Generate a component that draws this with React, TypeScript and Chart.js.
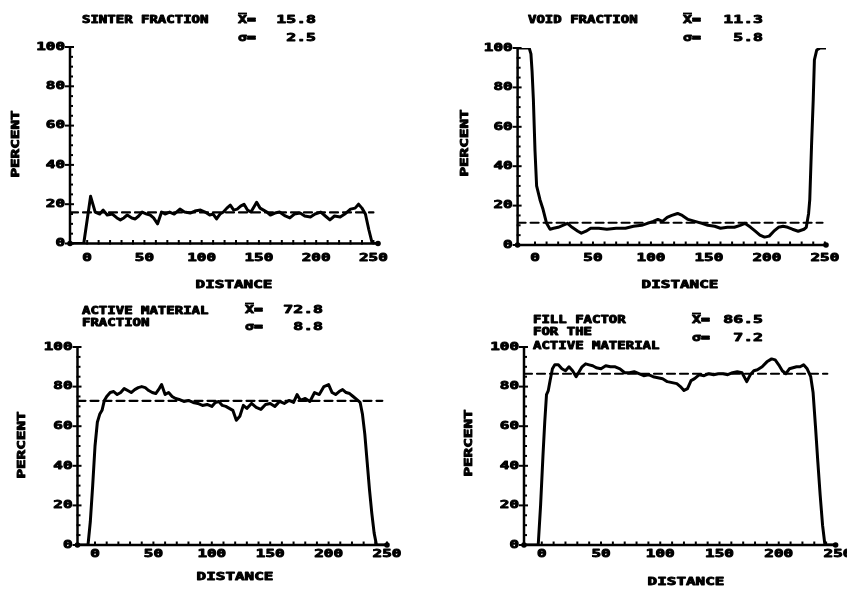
import React, { useEffect, useRef } from "react";
import { Chart, registerables } from "chart.js";
Chart.register(...registerables);

// ---------------- data ----------------
const sinterDist = [-15,-8,-3,3,7,11,14,17.5,22,26,29,32,35,39,42,45,48,52,55,58,61.5,65,68,72,76,81,85,90,94,99,103,107,110,113,116,119,122,125,128,131,134,137,140,143,146,148,151,154,157,160,164,168,173,177,181,186,190,195,199,204,208,212,216,221,225,230,234,237,240,243,246,249,254];
const sinterPct = [0,0,0,24,16,15,17,14.5,15,13,12,13,14.5,13,12.5,14,16,15,14.5,13,10,16,15,16,15,17.5,16,15.5,16.5,17,16,14.5,15,12.5,15,16,18,19.5,17,17.5,19,20,17,16,19,21,18,17,16,14.5,15.5,16,14,13,15,15.5,14,13.5,15,16,14,12,14,13.5,15,17.5,18,20,18,15,7,0,0];

const voidDist = [-15,-10,-5,-3.5,-2.5,-1.4,0,1.4,4.3,7,10,13,16,20,24,28,32,37,40,44,48,55,62,70,78,85,92,97,102,106,110,114,118,123,127,132,138,144,149,155,160,166,172,177,181,186,190,194,198,202,206,210,214,218,222,227,232,234,236,237,238.5,240,241,243,246,251];
const voidPct = [100,100,100,97,88,74,48,30,23,18,11,8,8.5,9,10,11,9,7,6,7,8.5,8.5,8,8.5,8.5,9.5,10,11,12,13,12,14,15,16,15,13,12,11,10,9.5,8.5,9,9,10,11,9,7,5,4,4.5,7,9,9.5,9,8,7,8,9,16,23,50,74,94,99,100,100];

const activeDist = [-15,-6,-4,-2,0,2,4,6,8,10,13,16,19,22,25,28,31,34,37,40,43,46,49,52,55,57,60,63,66,69,72,76,80,84,88,92,96,100,103,106,109,112,115,118,121,124,127,130,134,138,142,146,150,154,158,162,166,170,173,176,180,184,188,192,196,200,203,206,209,212,215,218,221,224,227,229,231,233,235,237,239,241,250];
const activePct = [0,0,12,30,50,62,66,68,73,75,77,77.5,76,77,79,78,77,78.5,79.5,80,79.5,78,77,76.5,79,81,76,77,75,74,73.5,72.5,73,72,71.5,70.5,71,70,72,72.5,70.5,70,69,68,63,65,70.5,69,71.5,69.5,68.5,71,71.5,70,72.5,71.5,73,72,76,73,74,72.5,77,76,80,81,77,76,77.5,78.5,77,76.5,75,73.5,72,66,56,42,28,16,6,0,0];

const fillDist = [-15,-3,-1,1,2.5,4,5.5,7,9,11,14,17,20,23,26,29,32,34,37,40,43,46,50,54,58,62,66,70,74,78,82,86,90,94,98,102,106,110,114,117,120,123,126,129,133,137,141,145,149,153,157,161,165,169,173,176,179,182,186,190,194,197,200,203,206,209,212,215,218,221,224,227,229,231,233,235,237,239,248];
const fillPct = [0,0,20,45,62,76,78,83,89,91,91,89,88,90,88,85,88,90,91.5,91,90.5,89.5,89,90.5,90,90,89,87,87,87.5,86.5,85.5,86,85,84.5,84,82.5,82,81.5,80,78,79,83,84,86,85.5,86.5,86,86.5,86.5,86,87,87.5,87,82.5,86,88,88.5,90,92.5,94,93.5,91,88,86.5,89,89.5,90,90,91,89,85,77,60,42,25,10,0,0];

const means = [15.8, 11.3, 72.8, 86.5];
const sigmas = [2.5, 5.8, 8.8, 7.2];
const meanStart = [-15, -15, -15, -15];
const meanEnd = [250, 248, 246, 241];
const panelTitles = [
  ["SINTER FRACTION"],
  ["VOID FRACTION"],
  ["ACTIVE MATERIAL", "FRACTION"],
  ["FILL FACTOR", "FOR THE", "ACTIVE MATERIAL"],
];
const xTickValues = [0, 50, 100, 150, 200, 250];
const yTickValues = [0, 20, 40, 60, 80, 100];
const xAxisTitle = "DISTANCE";
const yAxisTitle = "PERCENT";

// ---------------- layout (page pixels) ----------------
const W = 847, H = 590;
const layouts = [
  { left: 70, right: 378, top: 47, bottom: 243.5, xMax: 254, xLabY: 258, xTitle: [234, 285], yTitle: [16, 144], titleX: 82, titleY: [20], statX: 238, statR: 316, statY: [20, 38] },
  { left: 517.6, right: 826, top: 48, bottom: 245, xMax: 251, xLabY: 258, xTitle: [680, 285], yTitle: [465, 143], titleX: 528, titleY: [20], statX: 683, statR: 763, statY: [20, 38] },
  { left: 77.5, right: 387, top: 347, bottom: 545, xMax: 250, xLabY: 554, xTitle: [235, 577], yTitle: [22, 445], titleX: 82, titleY: [311, 323], statX: 245, statR: 323, statY: [310, 327] },
  { left: 524, right: 835.6, top: 347, bottom: 545, xMax: 248, xLabY: 554, xTitle: [686, 582], yTitle: [469, 443], titleX: 533, titleY: [320, 332, 346], statX: 692, statR: 763, statY: [320, 338] },
];
const seriesDist = [sinterDist, voidDist, activeDist, fillDist];
const seriesPct = [sinterPct, voidPct, activePct, fillPct];

const MONO = '"DejaVu Sans Mono", "Liberation Mono", monospace';

function txt(ctx: CanvasRenderingContext2D, s: string, x: number, y: number, size: number, sx: number, align: CanvasTextAlign, rotate = false) {
  ctx.save();
  ctx.translate(x, y);
  if (rotate) ctx.rotate(-Math.PI / 2);
  ctx.scale(sx, 1);
  ctx.font = `bold ${size}px ${MONO}`;
  ctx.fillStyle = "#000";
  ctx.strokeStyle = "#000";
  ctx.lineWidth = 0.9;
  ctx.lineJoin = "round";
  ctx.textAlign = align;
  ctx.textBaseline = "middle";
  ctx.fillText(s, 0, 0);
  ctx.strokeText(s, 0, 0);
  ctx.restore();
}

function makeDecor(i: number) {
  const L = layouts[i];
  return {
    id: "decor" + i,
    afterDraw(chart: any) {
      const ctx: CanvasRenderingContext2D = chart.ctx;
      const xs = chart.scales.x, ys = chart.scales.y;
      const x0 = xs.getPixelForValue(xs.min);
      const x1 = xs.getPixelForValue(xs.max);
      const y0 = ys.getPixelForValue(0);
      const y100 = ys.getPixelForValue(100);
      ctx.save();
      ctx.strokeStyle = "#000";
      ctx.fillStyle = "#000";
      ctx.lineCap = "butt";
      // axes
      ctx.lineWidth = 2.5;
      ctx.beginPath();
      ctx.moveTo(x0, y0); ctx.lineTo(x0, y100);
      ctx.moveTo(x0, y0); ctx.lineTo(x1, y0);
      ctx.stroke();
      // y minor ticks every 5
      ctx.lineWidth = 2;
      for (let v = 5; v < 100; v += 5) {
        if (v % 20 === 0) continue;
        const py = ys.getPixelForValue(v);
        ctx.beginPath(); ctx.moveTo(x0 - 1, py); ctx.lineTo(x0 + 3, py); ctx.stroke();
      }
      // y major ticks + labels
      for (const v of yTickValues) {
        const py = ys.getPixelForValue(v);
        ctx.beginPath(); ctx.moveTo(x0 - 5, py); ctx.lineTo(x0 + 4, py); ctx.stroke();
        txt(ctx, String(v), x0 - 5, py, 11, 1.45, "right");
      }
      // x ticks every 10
      for (let v = 0; v <= xs.max; v += 10) {
        const px = xs.getPixelForValue(v);
        ctx.beginPath(); ctx.moveTo(px, y0 + 1); ctx.lineTo(px, y0 - 3.5); ctx.stroke();
      }
      for (const v of xTickValues) {
        const px = xs.getPixelForValue(v);
        txt(ctx, String(v), px, L.xLabY, 11, 1.45, "center");
      }
      // corner dots
      ctx.beginPath(); ctx.arc(x0, y0, 2.8, 0, Math.PI * 2); ctx.fill();
      ctx.beginPath(); ctx.arc(x1, y0, 2.8, 0, Math.PI * 2); ctx.fill();
      // axis titles
      txt(ctx, xAxisTitle, L.xTitle[0], L.xTitle[1], 11, 1.45, "center");
      txt(ctx, yAxisTitle, L.yTitle[0], L.yTitle[1], 11, 1.45, "center", true);
      // panel title
      panelTitles[i].forEach((s, k) => txt(ctx, s, L.titleX, L.titleY[k], 10, 1.4, "left"));
      // stats
      txt(ctx, "X=", L.statX, L.statY[0], 11, 1.35, "left");
      ctx.lineWidth = 1.8;
      ctx.beginPath(); ctx.moveTo(L.statX, L.statY[0] - 6.5); ctx.lineTo(L.statX + 9, L.statY[0] - 6.5); ctx.stroke();
      txt(ctx, means[i].toFixed(1), L.statR, L.statY[0], 11, 1.5, "right");
      txt(ctx, "\u03C3=", L.statX, L.statY[1], 11, 1.35, "left");
      txt(ctx, sigmas[i].toFixed(1), L.statR, L.statY[1], 11, 1.5, "right");
      ctx.restore();
    },
  };
}

function Panel({ i }: { i: number }) {
  const ref = useRef<HTMLCanvasElement>(null);
  useEffect(() => {
    const L = layouts[i];
    const pts = seriesDist[i].map((d, k) => ({ x: d, y: seriesPct[i][k] }));
    const chart = new Chart(ref.current as HTMLCanvasElement, {
      type: "line",
      data: {
        datasets: [
          {
            data: pts,
            borderColor: "#000",
            borderWidth: 3,
            pointRadius: 0,
            tension: 0,
            fill: false,
          },
          {
            data: [
              { x: meanStart[i], y: means[i] },
              { x: meanEnd[i], y: means[i] },
            ],
            borderColor: "#000",
            borderWidth: 2.2,
            borderDash: [8, 5],
            pointRadius: 0,
            fill: false,
          },
        ],
      },
      options: {
        responsive: false,
        animation: false,
        devicePixelRatio: 1,
        layout: {
          padding: { left: L.left, right: W - L.right, top: L.top, bottom: H - L.bottom },
        },
        plugins: { legend: { display: false }, tooltip: { enabled: false }, title: { display: false } },
        scales: {
          x: { type: "linear", min: -15, max: L.xMax, display: false },
          y: { type: "linear", min: 0, max: 100, display: false },
        },
        elements: { line: { borderCapStyle: "round", borderJoinStyle: "round" } },
      },
      plugins: [makeDecor(i)],
    } as any);
    return () => chart.destroy();
  }, [i]);
  return (
    <canvas
      ref={ref}
      width={W}
      height={H}
      style={{ position: "absolute", left: 0, top: 0, width: W, height: H }}
    />
  );
}

export default function App() {
  return (
    <div style={{ position: "fixed", left: 0, top: 0, width: W, height: H, background: "#fff", overflow: "hidden" }}>
      {[0, 1, 2, 3].map((i) => (
        <Panel key={i} i={i} />
      ))}
    </div>
  );
}
